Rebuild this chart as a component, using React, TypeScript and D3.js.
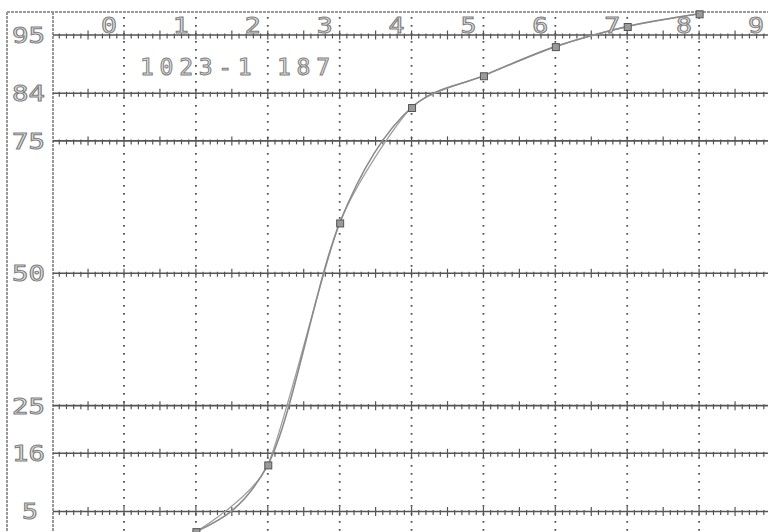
import React from "react";
import * as d3 from "d3";

const phiValues = [1, 2, 3, 4, 5, 6, 7, 8];
const cumPercent = [1.2, 13.8, 59.5, 81.3, 87.3, 92.8, 96.6, 99.0];
const xTickLabels = [0, 1, 2, 3, 4, 5, 6, 7, 8, 9];
const yTickLabels = [95, 84, 75, 50, 25, 16, 5];
const sampleTitle = "1023-1 187";

const W = 768;
const H = 532;
const LEFT = 53;
const TOP = 12;

export default function App() {
  const x = d3.scaleLinear().domain([0, 9]).range([124, 771]);
  const y = d3.scaleLinear().domain([0, 100]).range([538, 8.5]);
  const pts: [number, number][] = phiValues.map((p, i) => [p, cumPercent[i]]);

  const line1 = d3
    .line<[number, number]>()
    .x((d) => x(d[0]))
    .y((d) => y(d[1]))
    .curve(d3.curveMonotoneX);
  const line2 = d3
    .line<[number, number]>()
    .x((d) => x(d[0]))
    .y((d) => y(d[1]))
    .curve(d3.curveCardinal.tension(0.35));

  const minorTicks = d3.range(-10, 96).map((i) => i / 10);

  const fontFamily = "'DejaVu Sans Mono', 'Liberation Mono', monospace";
  const textStyle = {
    fill: "#e4e4e4",
    stroke: "#808080",
    strokeWidth: 1,
    fontFamily,
  } as const;

  return (
    <svg
      width={W}
      height={H}
      style={{ position: "absolute", left: 0, top: 0, background: "#fff" }}
    >
      <defs>
        <clipPath id="plot">
          <rect x={LEFT} y={0} width={W - LEFT} height={H} />
        </clipPath>
      </defs>
      {/* outer frame */}
      <line x1={7} y1={TOP} x2={W} y2={TOP} stroke="#999" strokeWidth={2} strokeDasharray="3 1" />
      <line x1={7} y1={TOP} x2={7} y2={H} stroke="#999" strokeWidth={2} strokeDasharray="3 1" />
      <line x1={LEFT} y1={TOP} x2={LEFT} y2={H} stroke="#999" strokeWidth={2} strokeDasharray="3 1" />

      {/* vertical dotted grid */}
      {xTickLabels.map((t) => (
        <line
          key={"v" + t}
          x1={x(t)}
          x2={x(t)}
          y1={TOP + 5}
          y2={H}
          stroke="#555"
          strokeWidth={1.8}
          strokeDasharray="1.8 6.2"
        />
      ))}

      {/* horizontal ruled lines with ticks */}
      <g clipPath="url(#plot)">
        {yTickLabels.map((v) => {
          const yy = y(v);
          return (
            <g key={"h" + v}>
              <line x1={LEFT} x2={W} y1={yy} y2={yy} stroke="#555" strokeWidth={1.6} />
              {minorTicks.map((m, i) => {
                const isHalf = Math.abs(m * 2 - Math.round(m * 2)) < 1e-6;
                const up = isHalf ? 4.5 : 1.5;
                const down = isHalf ? 4.5 : 3.5;
                return (
                  <line
                    key={i}
                    x1={x(m)}
                    x2={x(m)}
                    y1={yy - up}
                    y2={yy + down}
                    stroke="#555"
                    strokeWidth={1.2}
                  />
                );
              })}
            </g>
          );
        })}

        {/* curves */}
        <path d={line2(pts) || ""} fill="none" stroke="#a0a0a0" strokeWidth={1.3} />
        <path d={line1(pts) || ""} fill="none" stroke="#8a8a8a" strokeWidth={1.6} />

        {/* markers */}
        {pts.map((d, i) => (
          <rect
            key={"m" + i}
            x={x(d[0]) - 3}
            y={y(d[1]) - 3}
            width={7}
            height={7}
            fill="#9a9a9a"
            stroke="#555"
            strokeWidth={1}
          />
        ))}
      </g>

      {/* y labels */}
      {yTickLabels.map((v) => {
        const s = String(v);
        return (
          <text
            key={"yl" + v}
            x={s.length === 1 ? 22 : 12}
            y={y(v)}
            dy="0.36em"
            fontSize={22}
            textLength={s.length === 1 ? 16 : 33}
            lengthAdjust="spacingAndGlyphs"
            style={textStyle}
          >
            {s}
          </text>
        );
      })}

      {/* x labels */}
      {xTickLabels.map((t) => (
        <text
          key={"xl" + t}
          x={x(t) - 23}
          y={33}
          fontSize={22}
          textLength={16}
          lengthAdjust="spacingAndGlyphs"
          style={textStyle}
        >
          {t}
        </text>
      ))}

      {/* title */}
      <text
        x={140}
        y={75}
        fontSize={23}
        textLength={190}
        lengthAdjust="spacing"
        style={textStyle}
      >
        {sampleTitle}
      </text>
    </svg>
  );
}
